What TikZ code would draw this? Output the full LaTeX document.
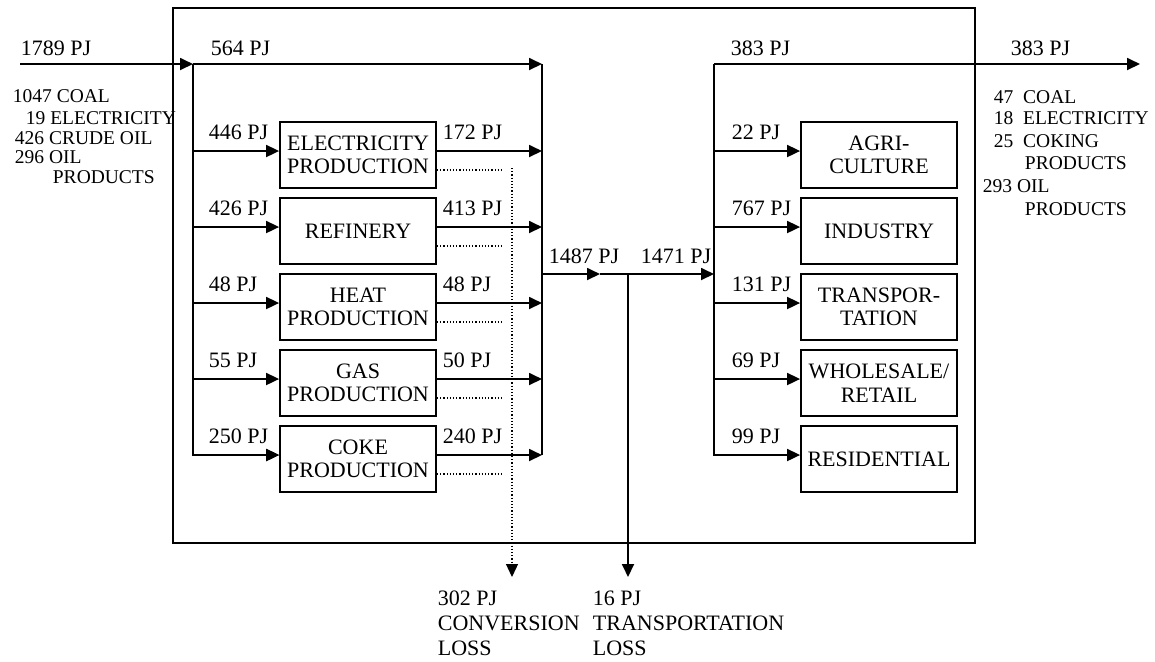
\documentclass[tikz,border=0pt]{standalone}
\usepackage{fontspec}
\setmainfont{Liberation Serif}
\usetikzlibrary{arrows.meta}

\begin{document}
\begin{tikzpicture}[x=0.5pt, y=-0.5pt, line width=0.9pt,
  flow/.style={-{Triangle[length=6.5pt,width=6pt]}},
  loss/.style={densely dotted, line width=0.6pt},
  proc/.style={draw, align=center, minimum width=78pt, minimum height=33pt,
    inner sep=1pt, font=\fontsize{11}{11.75}\selectfont},
  lbl/.style={anchor=base west, inner sep=0pt, font=\fontsize{11}{12}\selectfont},
  lst/.style={anchor=base west, inner sep=0pt, font=\fontsize{9.75}{11}\selectfont}]
  \useasboundingbox (0,0) rectangle (1155,661);

  % system boundary
  \draw[line width=0.6pt] (173,8) rectangle (975,543);

  % junctions
  \coordinate (src) at (20,64);
  \coordinate (split) at (193,64);
  \coordinate (merge) at (542,64);
  \coordinate (mid) at (542,274);
  \coordinate (midtip) at (600,274);
  \coordinate (tap) at (628,274);
  \coordinate (fan) at (714,274);
  \coordinate (fantop) at (714,64);
  \coordinate (sink) at (1140,64);
  \coordinate (convtop) at (512,168);
  \coordinate (convend) at (512,577);
  \coordinate (transend) at (628,577);

  % conversion units
  \node[proc] (elec) at (358,155) {ELECTRICITY\\PRODUCTION};
  \node[proc] (ref)  at (358,231) {REFINERY};
  \node[proc] (heat) at (358,307) {HEAT\\PRODUCTION};
  \node[proc] (gas)  at (358,383) {GAS\\PRODUCTION};
  \node[proc] (coke) at (358,459) {COKE\\PRODUCTION};

  % final use sectors
  \node[proc] (agri) at (879,155) {AGRI-\\CULTURE};
  \node[proc] (ind)  at (879,231) {INDUSTRY};
  \node[proc] (trn)  at (879,307) {TRANSPOR-\\TATION};
  \node[proc] (whs)  at (879,383) {WHOLESALE/\\RETAIL};
  \node[proc] (res)  at (879,459) {RESIDENTIAL};

  % supply side
  \draw[flow] (src) -- (split);
  \draw[flow] (split) -- (merge);
  \draw[flow] (split) |- (coke.west |- 0,455);
  \draw (merge) -- (merge |- 0,455);
  \foreach \u/\y/\d in {elec/151/170, ref/227/246, heat/303/322, gas/379/398, coke/455/474}{
    \draw[flow] (split |- 0,\y) -- (\u.west |- 0,\y);
    \draw[flow] (\u.east |- 0,\y) -- (merge |- 0,\y);
    \draw[loss] (\u.east |- 0,\d) -- ++(66,0);
  }

  % losses
  \draw[loss, flow] (convtop) -- (convend);
  \draw[flow] (mid) -- (midtip);
  \draw[flow] (midtip) -- (fan);
  \draw[flow] (tap) -- (transend);

  % demand side
  \draw[flow] (fantop) -- (sink);
  \draw[flow] (fantop) |- (res.west |- 0,455);
  \foreach \u/\y in {agri/151, ind/227, trn/303, whs/379}
    \draw[flow] (fantop |- 0,\y) -- (\u.west |- 0,\y);

  % flow labels
  \node[lbl] (total) at (20,55) {1789 PJ};
  \node[lbl] (direct) at (210,55) {564 PJ};
  \node[lbl] (export) at (730,55) {383 PJ};
  \node[lbl] (exportout) at (1010,55) {383 PJ};
  \node[lbl] (gross) at (548,263) {1487 PJ};
  \node[lbl] (net) at (640,263) {1471 PJ};
  \foreach \a/\b/\c/\y [count=\i] in {446/172/22/139, 426/413/767/215,
      48/48/131/291, 55/50/69/367, 250/240/99/443}{
    \node[lbl] (in\i) at (208,\y) {\a\ PJ};
    \node[lbl] (out\i) at (442,\y) {\b\ PJ};
    \node[lbl] (use\i) at (731,\y) {\c\ PJ};
  }

  % loss labels
  \node[lbl] (conv1) at (437,605) {302 PJ};
  \node[lbl] (conv2) at (437,630) {CONVERSION};
  \node[lbl] (conv3) at (437,655) {LOSS};
  \node[lbl] (trans1) at (592,605) {16 PJ};
  \node[lbl] (trans2) at (592,630) {TRANSPORTATION};
  \node[lbl] (trans3) at (592,655) {LOSS};

  % supply mix
  \node[lst] (mixa) at (12,102) {1047 COAL};
  \node[lst] (mixb) at (25,124) {19 ELECTRICITY};
  \node[lst] (mixc) at (14,144) {426 CRUDE OIL};
  \node[lst] (mixd) at (14,163) {296 OIL};
  \node[lst] (mixe) at (52,183) {PRODUCTS};

  % export mix
  \node[lst] (expa) at (993,103) {47 \ COAL};
  \node[lst] (expb) at (993,124) {18 \ ELECTRICITY};
  \node[lst] (expc) at (993,147) {25 \ COKING};
  \node[lst] (expd) at (1024,169) {PRODUCTS};
  \node[lst] (expe) at (982,192) {293 OIL};
  \node[lst] (expf) at (1024,215) {PRODUCTS};
\end{tikzpicture}
\end{document}
